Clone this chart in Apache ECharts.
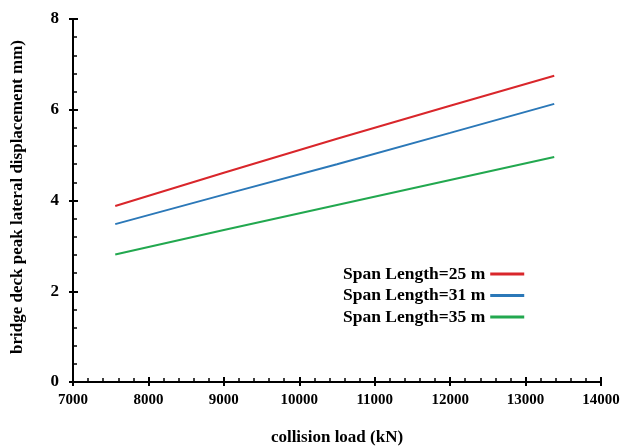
<!DOCTYPE html>
<html>
<head>
<meta charset="utf-8">
<script src="https://cdn.jsdelivr.net/npm/echarts@6/dist/echarts.min.js"></script>
<style>
  html, body { margin: 0; padding: 0; background: #fff; }
  #chart { width: 621px; height: 446px; }
</style>
</head>
<body>
<div id="chart"></div>
<script>
// collision load (kN) sample points
const loads = [7560, 9000, 10500, 12000, 13380];
// peak lateral displacement of the bridge deck (mm) per span length
const span25 = [3.88, 4.61, 5.36, 6.09, 6.75];
const span31 = [3.48, 4.13, 4.80, 5.49, 6.13];
const span35 = [2.81, 3.35, 3.90, 4.45, 4.96];
const seriesNames = ['Span Length=25 m', 'Span Length=31 m', 'Span Length=35 m'];
const seriesColors = ['#d9262b', '#2b78b8', '#22a84f'];

const xTicks = { min: 7000, max: 14000, interval: 1000 };
const yTicks = { min: 0, max: 8, interval: 2 };

const FONT = '"Liberation Serif", "Times New Roman", serif';

function pairs(ys) { return loads.map((x, i) => [x, ys[i]]); }

const chart = echarts.init(document.getElementById('chart'), null, { renderer: 'canvas' });

const axisLine = { show: true, lineStyle: { color: '#000', width: 2 } };

chart.setOption({
  animation: false,
  backgroundColor: '#fff',
  grid: {
    left: 73, right: 20, top: 19, bottom: 64,
    containLabel: false, outerBoundsMode: 'none'
  },
  xAxis: [
    {
      type: 'value', min: xTicks.min, max: xTicks.max, interval: xTicks.interval,
      name: 'collision load (kN)', nameLocation: 'middle', nameGap: 47,
      nameTextStyle: { fontFamily: FONT, fontWeight: 'bold', fontSize: 17, color: '#000' },
      axisLine: axisLine,
      axisTick: { show: true, inside: true, length: 5, lineStyle: { color: '#000', width: 2 } },
      minorTick: { show: true, splitNumber: 5, length: 4, lineStyle: { color: '#000', width: 1.5 } },
      axisLabel: {
        fontFamily: FONT, fontWeight: 'bold', fontSize: 15, color: '#000', margin: 11,
        formatter: (v) => String(v)
      },
      splitLine: { show: false }
    },
    {
      type: 'value', min: xTicks.min, max: xTicks.max, interval: xTicks.interval,
      position: 'bottom', offset: 0,
      axisLine: { show: false },
      axisTick: { show: true, inside: false, length: 4, lineStyle: { color: '#000', width: 2 } },
      axisLabel: { show: false },
      splitLine: { show: false }
    }
  ],
  yAxis: [
    {
      type: 'value', min: yTicks.min, max: yTicks.max, interval: yTicks.interval,
      name: 'bridge deck peak lateral displacement mm)', nameLocation: 'middle', nameGap: 47,
      nameTextStyle: {
        fontFamily: FONT, fontWeight: 'bold', fontSize: 17, color: '#000',
        padding: [0, 0, 0, 7]
      },
      axisLine: axisLine,
      axisTick: { show: true, inside: true, length: 5, lineStyle: { color: '#000', width: 2 } },
      minorTick: { show: true, splitNumber: 5, length: 4, lineStyle: { color: '#000', width: 1.5 } },
      axisLabel: { fontFamily: FONT, fontWeight: 'bold', fontSize: 17, color: '#000', margin: 14 },
      splitLine: { show: false }
    },
    {
      type: 'value', min: yTicks.min, max: yTicks.max, interval: yTicks.interval,
      position: 'left', offset: 0,
      axisLine: { show: false },
      axisTick: { show: true, inside: false, length: 4, lineStyle: { color: '#000', width: 2 } },
      axisLabel: { show: false },
      splitLine: { show: false }
    }
  ],
  legend: {
    orient: 'vertical',
    left: 343, top: 265,
    padding: 0,
    align: 'right',
    itemWidth: 34, itemHeight: 3, itemGap: 3.5,
    icon: 'rect',
    textStyle: { fontFamily: FONT, fontWeight: 'bold', fontSize: 17.5, color: '#000' },
    data: seriesNames
  },
  series: [span25, span31, span35].map((ys, i) => ({
    name: seriesNames[i],
    type: 'line',
    xAxisIndex: 0, yAxisIndex: 0,
    data: pairs(ys),
    showSymbol: false,
    symbol: 'none',
    smooth: false,
    lineStyle: { color: seriesColors[i], width: 2 },
    itemStyle: { color: seriesColors[i] }
  }))
});
</script>
</body>
</html>
